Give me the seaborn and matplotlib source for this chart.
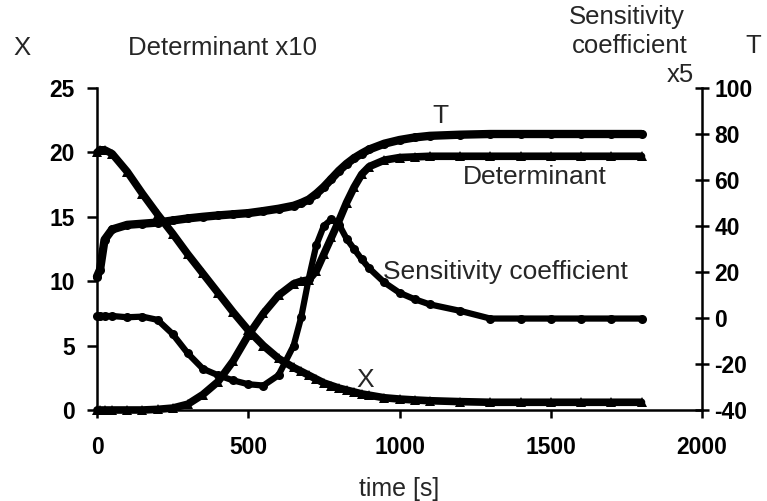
import matplotlib
matplotlib.use("Agg")
import matplotlib.pyplot as plt
import seaborn as sns
import pandas as pd
import numpy as np

# ---- data ----
time = [0, 10, 25, 50, 100, 150, 200, 250, 300, 350, 400, 450, 500, 550, 600,
        650, 675, 700, 725, 750, 775, 800, 825, 850, 875, 900, 950, 1000, 1050,
        1100, 1200, 1300, 1400, 1500, 1600, 1700, 1800]

x_conv = [20.0, 20.2, 20.2, 19.9, 18.5, 16.8, 15.2, 13.7, 12.1, 10.6, 9.1, 7.6, 6.2, 5.0, 4.0,
          3.3, 3.0, 2.7, 2.4, 2.1, 1.9, 1.7, 1.55, 1.4, 1.25, 1.15, 0.95, 0.85, 0.78,
          0.72, 0.65, 0.6, 0.6, 0.6, 0.6, 0.6, 0.6]

temp = [18.0, 21.0, 34.0, 38.5, 40.5, 41.0, 41.5, 42.4, 43.3, 44.0, 44.6, 45.1, 45.6, 46.5, 47.5,
        48.8, 50.0, 51.5, 54.0, 57.0, 60.5, 64.0, 67.0, 69.5, 71.5, 73.3, 75.8, 77.4, 78.5,
        79.2, 79.7, 80.0, 80.0, 80.0, 80.0, 80.0, 80.0]

determinant = [0.0, 0.0, 0.0, 0.0, 0.0, 0.0, 0.05, 0.15, 0.45, 1.2, 2.2, 3.8, 5.8, 7.5, 8.9,
               9.8, 10.0, 10.1, 10.8, 12.1, 13.4, 14.7, 16.1, 17.3, 18.3, 18.9, 19.4, 19.6, 19.65,
               19.7, 19.7, 19.7, 19.7, 19.7, 19.7, 19.7, 19.7]

sensitivity = [7.3, 7.3, 7.3, 7.3, 7.2, 7.25, 7.0, 5.9, 4.4, 3.2, 2.7, 2.3, 2.0, 1.9, 2.7,
               5.0, 7.2, 10.2, 12.8, 14.3, 14.8, 14.4, 13.3, 12.5, 11.7, 11.0, 9.9, 9.1, 8.6,
               8.2, 7.7, 7.1, 7.1, 7.1, 7.1, 7.1, 7.1]

x_ticks = [0, 500, 1000, 1500, 2000]
left_ticks = [0, 5, 10, 15, 20, 25]
right_ticks = [-40, -20, 0, 20, 40, 60, 80, 100]

df = pd.DataFrame({"time": time, "X": x_conv, "T": temp,
                   "Determinant": determinant, "Sensitivity": sensitivity})

sns.set_style("ticks")
plt.rcParams["font.family"] = ["Liberation Sans", "DejaVu Sans"]

W, H = 767, 501
fig = plt.figure(figsize=(W / 100, H / 100), dpi=100)
ax = fig.add_axes([97 / W, 1 - 410 / H, 605 / W, 322 / H])
ax2 = ax.twinx()

lw = 5.5
sns.lineplot(data=df, x="time", y="X", ax=ax, color="black", lw=lw,
             marker="^", markersize=7, markeredgewidth=0, legend=False, clip_on=False)
sns.lineplot(data=df, x="time", y="Determinant", ax=ax, color="black", lw=lw,
             marker="^", markersize=7, markeredgewidth=0, legend=False, clip_on=False)
sns.lineplot(data=df, x="time", y="Sensitivity", ax=ax, color="black", lw=4.5,
             marker="o", markersize=6.5, markeredgewidth=0, legend=False, clip_on=False)
sns.lineplot(data=df, x="time", y="T", ax=ax2, color="black", lw=6,
             marker="o", markersize=6.5, markeredgewidth=0, legend=False, clip_on=False)

ax.set_xlim(0, 2000)
ax.set_ylim(0, 25)
ax2.set_ylim(-40, 100)
ax.set_xticks(x_ticks)
ax.set_yticks(left_ticks)
ax2.set_yticks(right_ticks)
ax.set_xticklabels([str(v) for v in x_ticks], fontweight="bold", fontsize=16.5)
ax.set_yticklabels([str(v) for v in left_ticks], fontweight="bold", fontsize=16.5)
ax2.set_yticklabels([str(v) for v in right_ticks], fontweight="bold", fontsize=16.5)

ax.set_xlabel("time [s]", fontsize=18, labelpad=13)
ax.set_ylabel("")
ax2.set_ylabel("")

for a in (ax, ax2):
    a.spines["top"].set_visible(False)
    for s in a.spines.values():
        s.set_linewidth(1.8)
        s.set_color("black")
ax.spines["right"].set_visible(False)
ax2.spines["left"].set_visible(False)
ax2.spines["bottom"].set_visible(False)

ax.tick_params(axis="y", direction="out", length=7, width=1.8, pad=9, colors="black")
ax.tick_params(axis="x", direction="out", length=6, width=1.8, pad=13, colors="black")
ax2.tick_params(axis="y", direction="inout", length=10, width=1.8, pad=4, colors="black")

# header texts
def ftext(px, py, s, ha="center", size=18.5):
    fig.text(px / W, 1 - py / H, s, ha=ha, va="center", fontsize=size)

ftext(22, 48, "X")
ftext(128, 48, "Determinant x10", ha="left")
ftext(685, 17, "Sensitivity", ha="right")
ftext(688, 46, "coefficient", ha="right")
ftext(694, 75, "x5", ha="right")
ftext(753, 46, "T")

# in-plot series labels
ax.text(1134, 22.8, "T", ha="center", va="center", fontsize=19)
ax.text(1210, 18.1, "Determinant", ha="left", va="center", fontsize=19)
ax.text(945, 10.7, "Sensitivity coefficient", ha="left", va="center", fontsize=19)
ax.text(886, 2.3, "X", ha="center", va="center", fontsize=19)

fig.savefig("out.png", dpi=100)
